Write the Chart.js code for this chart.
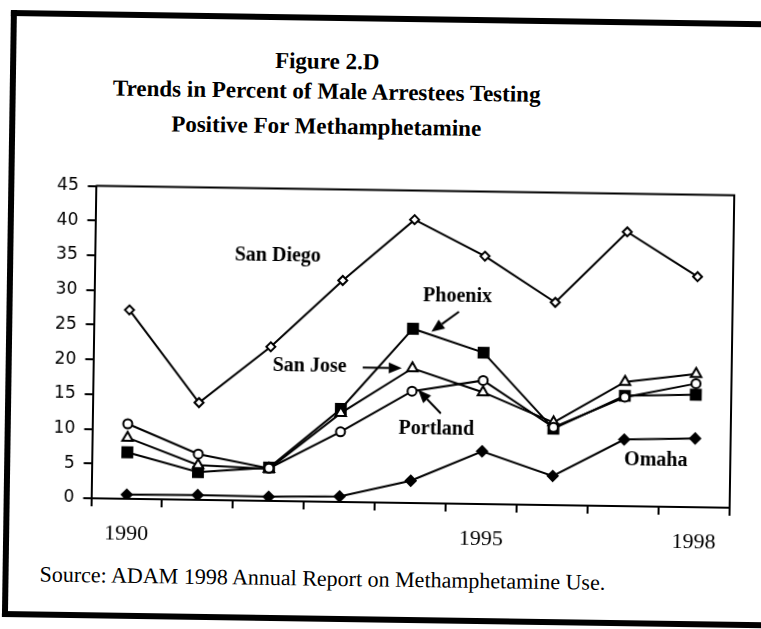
<!DOCTYPE html>
<html>
<head>
<meta charset="utf-8">
<script src="https://cdn.jsdelivr.net/npm/chart.js@4/dist/chart.umd.min.js"></script>
<style>
html,body{margin:0;padding:0;background:#fff;width:761px;height:629px;overflow:hidden;}
#page{position:absolute;left:0;top:0;width:761px;height:629px;transform:rotate(0.85deg);transform-origin:411px 345px;}
#frame{position:absolute;left:6px;top:16px;width:820px;height:595px;border-left:6px solid #000;border-top:6px solid #000;border-bottom:6px solid #000;}
.t{position:absolute;left:23px;width:600px;text-align:center;font-family:"Liberation Serif";font-weight:bold;font-size:23px;line-height:23px;color:#000;white-space:nowrap;}
#src{position:absolute;left:43px;top:569px;font-family:"Liberation Serif";font-size:22px;line-height:22px;color:#000;white-space:nowrap;}
#c{position:absolute;left:0;top:0;}
</style>
</head>
<body>
<div id="page">
  <div id="frame"></div>
  <div class="t" style="top:51px">Figure 2.D</div>
  <div class="t" style="top:81px">Trends in Percent of Male Arrestees Testing</div>
  <div class="t" style="top:116px">Positive For Methamphetamine</div>
  <div id="src">Source: ADAM 1998 Annual Report on Methamphetamine Use.</div>
  <canvas id="c" width="761" height="629"></canvas>
</div>
<script>
// ---- data ----
const years = ['1990','1991','1992','1993','1994','1995','1996','1997','1998'];
const xTickLabels = ['1990','','','','','1995','','','1998'];
const yMin = 0, yMax = 45, yStep = 5;
const cityNames = ['San Diego','Phoenix','San Jose','Portland','Omaha'];
const sanDiego = [27.2, 14.0, 22.2, 31.9, 40.8, 35.7, 29.2, 39.5, 33.2];
const phoenix  = [6.7, 4.0, 4.8, 13.4, 25.1, 21.8, 11.0, 15.9, 16.2];
const sanJose  = [8.8, 5.0, 4.6, 12.8, 19.4, 16.1, 11.9, 17.9, 19.2];
const portland = [10.8, 6.6, 4.7, 10.1, 16.1, 17.8, 11.2, 15.7, 17.8];
const omaha    = [0.6, 0.7, 0.6, 0.8, 3.2, 7.6, 4.2, 9.6, 9.9];

const notesPlugin = {
  id: 'notes',
  afterDatasetsDraw(chart, args, opts) {
    const {ctx, chartArea: a, scales: {x, y}} = chart;
    ctx.save();
    ctx.strokeStyle = '#000';
    ctx.fillStyle = '#000';
    ctx.lineWidth = 2;
    ctx.beginPath();
    ctx.moveTo(a.left, a.top);
    ctx.lineTo(a.right, a.top);
    ctx.lineTo(a.right, a.bottom);
    ctx.stroke();
    ctx.font = opts.font;
    ctx.textAlign = 'center';
    ctx.textBaseline = 'middle';
    opts.labels.forEach(l => {
      ctx.fillText(l.text, x.getPixelForValue(l.x), y.getPixelForValue(l.y));
    });
    opts.arrows.forEach(ar => {
      const x0 = x.getPixelForValue(ar.from[0]), y0 = y.getPixelForValue(ar.from[1]);
      const x1 = x.getPixelForValue(ar.to[0]), y1 = y.getPixelForValue(ar.to[1]);
      const ang = Math.atan2(y1 - y0, x1 - x0);
      const hl = 13, hw = 5.5;
      const bx = x1 - Math.cos(ang) * hl, by = y1 - Math.sin(ang) * hl;
      ctx.beginPath();
      ctx.moveTo(x0, y0);
      ctx.lineTo(bx, by);
      ctx.stroke();
      ctx.beginPath();
      ctx.moveTo(x1, y1);
      ctx.lineTo(bx + Math.sin(ang) * hw, by - Math.cos(ang) * hw);
      ctx.lineTo(bx - Math.sin(ang) * hw, by + Math.cos(ang) * hw);
      ctx.closePath();
      ctx.fill();
    });
    ctx.restore();
  }
};

function ds(label, data, style, radius, filled) {
  return {
    label, data,
    borderColor: '#000', borderWidth: 2, tension: 0, fill: false,
    pointStyle: style, pointRadius: radius, pointHoverRadius: radius,
    pointBorderColor: '#000', pointBorderWidth: 2,
    pointBackgroundColor: filled ? '#000' : '#fff'
  };
}

new Chart(document.getElementById('c'), {
  type: 'line',
  data: {
    labels: years,
    datasets: [
      ds(cityNames[4], omaha, 'rectRot', 5, true),
      ds(cityNames[3], portland, 'circle', 4.5, false),
      ds(cityNames[2], sanJose, 'triangle', 6, false),
      ds(cityNames[1], phoenix, 'rect', 7, true),
      ds(cityNames[0], sanDiego, 'rectRot', 4.5, false)
    ]
  },
  options: {
    responsive: false,
    animation: false,
    events: [],
    layout: {padding: {left: 20, right: 29, top: 190.5, bottom: 76}},
    plugins: {
      legend: {display: false},
      title: {display: false},
      tooltip: {enabled: false},
      notes: {
        font: 'bold 20px "Liberation Serif"',
        labels: [
          {text: cityNames[0], x: 2.08, y: 35.3},
          {text: cityNames[1], x: 4.62, y: 29.8},
          {text: cityNames[2], x: 2.55, y: 19.4},
          {text: cityNames[3], x: 4.35, y: 10.7},
          {text: cityNames[4], x: 7.45, y: 6.6}
        ],
        arrows: [
          {from: [4.645, 27.65], to: [4.26, 24.7]},
          {from: [3.30, 19.4], to: [3.85, 19.4]},
          {from: [4.41, 12.97], to: [4.085, 16.3]}
        ]
      }
    },
    scales: {
      x: {
        type: 'category',
        offset: true,
        grid: {display: true, drawOnChartArea: false, drawTicks: true, tickLength: 8, offset: true, color: '#000', lineWidth: 2},
        border: {display: true, color: '#000', width: 2},
        ticks: {autoSkip: false, maxRotation: 0, color: '#000', font: {family: 'Liberation Serif', size: 22}, padding: 14,
          callback: (v, i) => xTickLabels[i]},
        afterFit: s => { s.height = 50; }
      },
      y: {
        min: yMin, max: yMax,
        grid: {display: true, drawOnChartArea: false, drawTicks: true, tickLength: 8, color: '#000', lineWidth: 2},
        border: {display: true, color: '#000', width: 2},
        ticks: {stepSize: yStep, color: '#000', font: {family: 'DejaVu Sans', size: 17}, padding: 9},
        afterFit: s => { s.width = 73.5; }
      }
    }
  },
  plugins: [notesPlugin]
});
</script>
</body>
</html>
